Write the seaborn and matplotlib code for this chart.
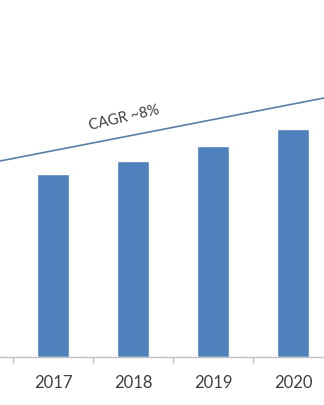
import matplotlib
matplotlib.use("Agg")
import matplotlib.pyplot as plt
import seaborn as sns
import pandas as pd

years = ["2017", "2018", "2019", "2020"]
market_size = [18.3, 19.6, 21.1, 22.8]
cagr_label = "CAGR ~8%"
cagr_trend = [19.6, 25.9]  # trend line values at left and right edges of the view

sns.set_theme(style="white")
plt.rcParams["font.family"] = ["Lato", "DejaVu Sans"]

df = pd.DataFrame({"year": years, "value": market_size})

fig = plt.figure(figsize=(3.24, 4.05), dpi=100)
ax = fig.add_axes([0, (405 - 357) / 405, 1, 357 / 405])

sns.barplot(data=df, x="year", y="value", color="#4f81bd", width=0.4,
            saturation=1, ax=ax)

x_left, x_right = -0.6625, 3.3875
ax.set_xlim(x_left, x_right)
ax.set_ylim(0, 35.7)

ax.plot([x_left, x_right], cagr_trend, color="#5a7fa8", lw=1.2,
        solid_capstyle="butt", clip_on=False)
ax.text(0.8875, 23.9, cagr_label, rotation=13, ha="center", va="center",
        fontsize=10.5, color="#404040", rotation_mode="anchor")

for s in ["top", "right", "left"]:
    ax.spines[s].set_visible(False)
ax.spines["bottom"].set_color("#bfbfbf")
ax.spines["bottom"].set_linewidth(1.0)

ax.set_yticks([])
ax.set_xlabel("")
ax.set_ylabel("")
ax.tick_params(axis="x", which="major", length=0, pad=13, labelsize=12,
               labelcolor="#404040")
ax.set_xticks([-0.5, 0.5, 1.5, 2.5], minor=True)
ax.tick_params(axis="x", which="minor", length=4, width=1, color="#bfbfbf",
               direction="out", bottom=True)

fig.savefig("out.png", dpi=100)
